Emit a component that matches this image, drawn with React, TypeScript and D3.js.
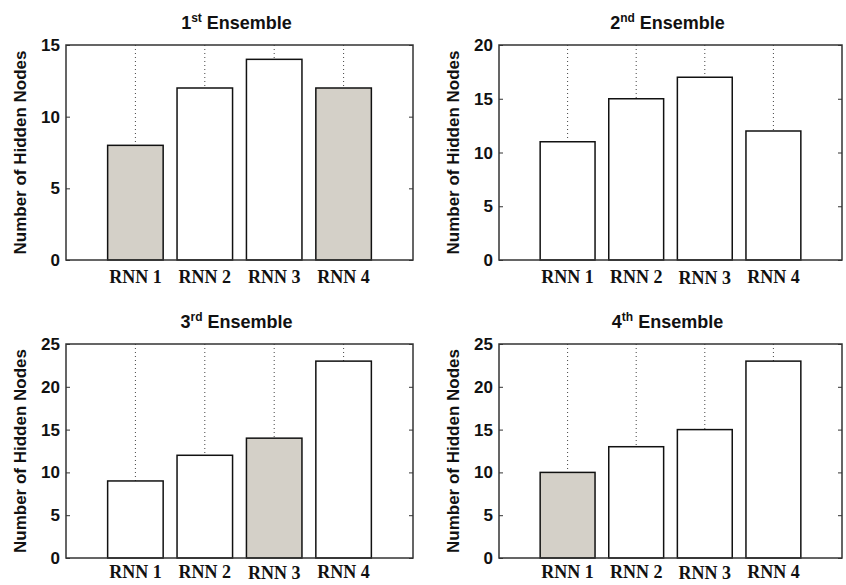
import { useEffect, useRef } from 'react';
import * as d3 from 'd3';

// data
const categories = ['RNN 1', 'RNN 2', 'RNN 3', 'RNN 4'];
const ordinals = ['1', '2', '3', '4'];
const suffixes = ['st', 'nd', 'rd', 'th'];
const ensemble1 = [8, 12, 14, 12];
const ensemble2 = [11, 15, 17, 12];
const ensemble3 = [9, 12, 14, 23];
const ensemble4 = [10, 13, 15, 23];
const yMaxes = [15, 20, 25, 25];
const yTickStep = 5;
// bars drawn in gray in each ensemble
const highlighted = [[0, 3], [], [2], [0]];

const allValues = [ensemble1, ensemble2, ensemble3, ensemble4];

export default function App() {
  const svgRef = useRef<SVGSVGElement>(null);

  useEffect(() => {
    const svg = d3.select(svgRef.current);
    svg.selectAll('*').remove();

    const width = 846;
    const height = 585;
    svg.attr('width', width).attr('height', height);

    svg.append('rect').attr('width', width).attr('height', height).attr('fill', 'white');

    const boxes = [
      { left: 66, right: 413, top: 45, bottom: 260 },
      { left: 499, right: 842, top: 45, bottom: 260 },
      { left: 66, right: 413, top: 344, bottom: 558 },
      { left: 499, right: 842, top: 344, bottom: 558 }
    ];

    const sans = 'Arial, "Liberation Sans", sans-serif';
    const serif = '"Times New Roman", "Liberation Serif", serif';

    allValues.forEach((values, p) => {
      const b = boxes[p];
      const x = d3.scaleLinear().domain([0, 5]).range([b.left, b.right]);
      const y = d3.scaleLinear().domain([0, yMaxes[p]]).range([b.bottom, b.top]);
      const g = svg.append('g');
      const data = values.map((v, i) => ({ cat: categories[i], value: v, pos: i + 1, hl: highlighted[p].includes(i) }));

      // dotted x grid lines (behind bars)
      g.selectAll('line.grid')
        .data(data)
        .join('line')
        .attr('class', 'grid')
        .attr('x1', d => x(d.pos))
        .attr('x2', d => x(d.pos))
        .attr('y1', b.top)
        .attr('y2', b.bottom)
        .attr('stroke', '#444')
        .attr('stroke-width', 1)
        .attr('stroke-dasharray', '1,3');

      const bw = x(0.8) - x(0);
      g.selectAll('rect.bar')
        .data(data)
        .join('rect')
        .attr('class', 'bar')
        .attr('x', d => x(d.pos) - bw / 2)
        .attr('y', d => y(d.value))
        .attr('width', bw)
        .attr('height', d => y(0) - y(d.value))
        .attr('fill', d => (d.hl ? '#d4d0c8' : 'white'))
        .attr('stroke', '#111')
        .attr('stroke-width', 1.5);

      // axes box
      g.append('rect')
        .attr('x', b.left)
        .attr('y', b.top)
        .attr('width', b.right - b.left)
        .attr('height', b.bottom - b.top)
        .attr('fill', 'none')
        .attr('stroke', '#333')
        .attr('stroke-width', 1.5);

      const ticks = d3.range(0, yMaxes[p] + 1, yTickStep);
      // inward ticks on both sides
      g.append('g')
        .attr('transform', `translate(${b.left},0)`)
        .call(d3.axisRight(y).tickValues(ticks).tickSize(4).tickFormat(() => ''))
        .call(a => a.select('.domain').remove())
        .call(a => a.selectAll('line').attr('stroke', '#333'));
      g.append('g')
        .attr('transform', `translate(${b.right},0)`)
        .call(d3.axisLeft(y).tickValues(ticks).tickSize(4).tickFormat(() => ''))
        .call(a => a.select('.domain').remove())
        .call(a => a.selectAll('line').attr('stroke', '#333'));

      g.selectAll('text.ytick')
        .data(ticks)
        .join('text')
        .attr('class', 'ytick')
        .attr('x', b.left - 6)
        .attr('y', d => y(d) + 6)
        .attr('text-anchor', 'end')
        .attr('font-family', sans)
        .attr('font-weight', 'bold')
        .attr('font-size', '17px')
        .attr('fill', '#111')
        .text(d => d);

      g.selectAll('text.xlab')
        .data(data)
        .join('text')
        .attr('class', 'xlab')
        .attr('x', d => x(d.pos))
        .attr('y', (d, i) => b.bottom + (p < 2 ? 23 : 20) + (p > 0 && i === 2 ? 1 : 0))
        .attr('text-anchor', 'middle')
        .attr('font-family', serif)
        .attr('font-weight', 'bold')
        .attr('font-size', '18px')
        .attr('fill', '#111')
        .text(d => d.cat);

      // y label
      g.append('text')
        .attr('transform', `translate(${b.left - 40},${(b.top + b.bottom) / 2}) rotate(-90)`)
        .attr('text-anchor', 'middle')
        .attr('font-family', sans)
        .attr('font-weight', 'bold')
        .attr('font-size', '17px')
        .attr('fill', '#111')
        .text('Number of Hidden Nodes');

      // title with superscript
      const title = g.append('text')
        .attr('x', (b.left + b.right) / 2 - 3)
        .attr('y', b.top - 16)
        .attr('text-anchor', 'middle')
        .attr('font-family', sans)
        .attr('font-weight', 'bold')
        .attr('font-size', '18px')
        .attr('fill', '#111');
      title.append('tspan').text(ordinals[p]);
      title.append('tspan').attr('font-size', '12px').attr('dy', -7).text(suffixes[p]);
      title.append('tspan').attr('dy', 7).text(' Ensemble');
    });
  }, []);

  return <svg ref={svgRef} style={{ position: 'absolute', left: 0, top: 0 }}></svg>;
}
